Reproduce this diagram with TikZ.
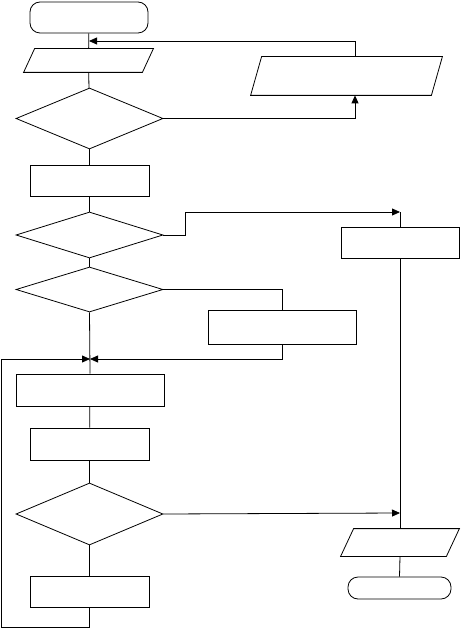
\documentclass[tikz,border=0pt]{standalone}
\usetikzlibrary{shapes.geometric,arrows.meta}

\begin{document}
\begin{tikzpicture}[x=1pt,y=-1pt,>={Triangle[length=8pt,width=7pt]},line width=0.8pt,
    term/.style={draw,rectangle,rounded corners=10pt,inner sep=0pt},
    proc/.style={draw,rectangle,inner sep=0pt},
    cond/.style={draw,diamond,inner sep=0pt,minimum width=147pt},
    io/.style={rectangle,inner sep=0pt}]
  \useasboundingbox (0,0) rectangle (460,628);

  % main column
  \node[term,minimum width=118pt,minimum height=31pt] (start) at (89,17.5) {};
  \node[io,minimum width=118pt,minimum height=23pt] (inp) at (88.5,60.5) {};
  \node[cond,minimum height=61pt] (d1) at (89.5,118.5) {};
  \node[proc,minimum width=119pt,minimum height=31pt] (box1) at (89.5,180.5) {};
  \node[cond,minimum height=46pt] (d2) at (89.5,235) {};
  \node[cond,minimum height=45pt] (d3) at (89.5,289.5) {};
  \node[proc,minimum width=148pt,minimum height=32pt] (box2) at (90,390) {};
  \node[proc,minimum width=119pt,minimum height=32pt] (box3) at (89.5,444) {};
  \node[cond,minimum height=62pt] (d4) at (89.5,514) {};
  \node[proc,minimum width=119pt,minimum height=31pt] (box4) at (89.5,591.5) {};

  % side branches
  \node[io,minimum width=180pt,minimum height=38pt] (pright) at (346.5,76) {};
  \node[proc,minimum width=148pt,minimum height=34pt] (boxM) at (282,327) {};
  \node[proc,minimum width=118pt,minimum height=31pt] (boxR) at (400,242.5) {};
  \node[io,minimum width=105pt,minimum height=27pt] (outp) at (400,542.5) {};
  \node[term,minimum width=103pt,minimum height=22pt] (stop) at (399.5,588) {};

  % slanted outlines of the in/out boxes
  \foreach \n/\s in {inp/5.5,pright/5.5,outp/6.5} {
    \draw ([xshift=-\s pt]\n.south west) -- ([xshift=-\s pt]\n.south east)
      -- ([xshift=\s pt]\n.north east) -- ([xshift=\s pt]\n.north west) -- cycle;
  }

  \coordinate (loopR) at (355,41);
  \coordinate (merge) at (90,359);
  \coordinate (jR) at (400,212);
  \coordinate (jO) at (400,513);
  \coordinate (loopL) at (1,627);

  \draw (start) -- (inp);
  \draw (inp) -- (d1);
  \draw (d1) -- (box1);
  \draw (box1) -- (d2);
  \draw (d2) -- (d3);
  \draw (d3.south) -- (box2.north);
  \draw (box2) -- (box3);
  \draw (box3) -- (d4);
  \draw (d4) -- (box4);

  \draw[->] (d1.east) -| (pright.south -| loopR);
  \draw[->] (pright.north -| loopR) -- (loopR) -- (start.south |- loopR);

  \draw[->] (d2.east) -- ++(22,0) |- (jR);
  \draw (jR) -- (boxR.north);
  \draw (boxR.south) -- (jO);
  \draw[->] (d4.east) -- (jO);
  \draw (jO) -- (outp.north);
  \draw (outp.south) -- (stop.north);

  \draw (d3.east) -| (boxM.north);
  \draw[->] (boxM.south) |- (merge);
  \draw[->] (box4.south) -- (box4.south |- loopL) -- (loopL) |- (merge);
\end{tikzpicture}
\end{document}
